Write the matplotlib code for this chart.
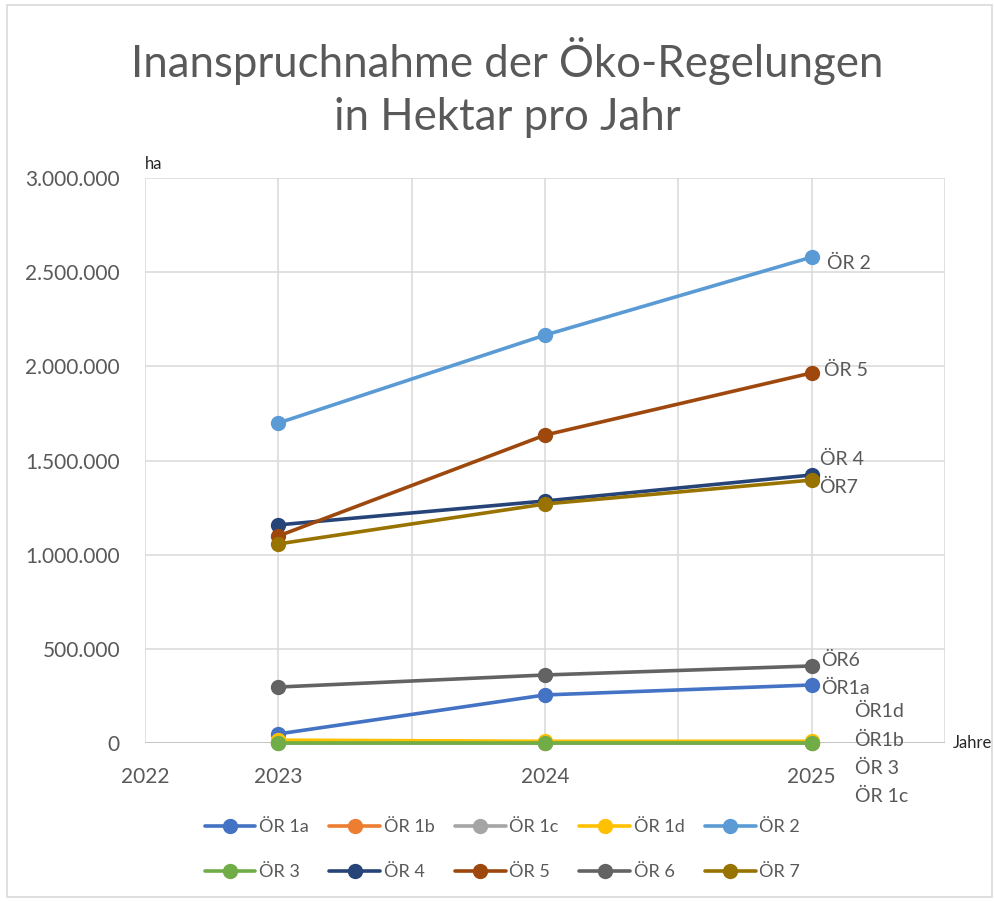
import matplotlib
matplotlib.use("Agg")
import matplotlib.pyplot as plt
from matplotlib.ticker import FuncFormatter, MultipleLocator
from matplotlib.patches import Rectangle

plt.rcParams['font.family'] = ['Lato', 'DejaVu Sans']

years = [2023, 2024, 2025]
series_names = ["ÖR 1a", "ÖR 1b", "ÖR 1c", "ÖR 1d", "ÖR 2", "ÖR 3", "ÖR 4", "ÖR 5", "ÖR 6", "ÖR 7"]
or1a = [48000, 255000, 308000]
or1b = [3000, 2000, 2000]
or1c = [1000, 1000, 1000]
or1d = [15000, 9000, 9000]
or2 = [1699000, 2166000, 2580000]
or3 = [2000, 2000, 2000]
or4 = [1158000, 1285000, 1423000]
or5 = [1099000, 1635000, 1965000]
or6 = [297000, 361000, 409000]
or7 = [1057000, 1269000, 1396000]
values = [or1a, or1b, or1c, or1d, or2, or3, or4, or5, or6, or7]
colors = ["#4472C4", "#ED7D31", "#A5A5A5", "#FFC000", "#5B9BD5",
          "#70AD47", "#264478", "#9E480E", "#636363", "#997300"]

# end-of-line data labels
end_labels = ["ÖR1a", "ÖR1b", "ÖR 1c", "ÖR1d", "ÖR 2", "ÖR 3", "ÖR 4", "ÖR 5", "ÖR6", "ÖR7"]
label_offsets = [(10, -3), (43, 2), (43, -54), (43, 30), (15, -6),
                 (43, -26), (8, 16), (12, 3), (10, 6), (8, -7)]

x_tick_pos = [2022.5, 2023, 2024, 2025]
x_tick_labels = ["2022", "2023", "2024", "2025"]

title = "Inanspruchnahme der Öko-Regelungen\nin Hektar pro Jahr"
TXT = "#595959"

fig = plt.figure(figsize=(9.95, 9.01), dpi=100)
fig.patches.append(Rectangle((0.007, 0.004), 0.99, 0.99, transform=fig.transFigure,
                             fill=False, edgecolor="#D9D9D9", lw=1.2))
ax = fig.add_axes([0.1457, 0.1754, 0.804, 0.627])

lines = []
for i in range(len(series_names)):
    ln, = ax.plot(years, values[i], color=colors[i], lw=2.6, marker='o', ms=10,
                  label=series_names[i], zorder=3 + i * 0.01,
                  solid_capstyle='round', clip_on=False)
    lines.append(ln)

for i in range(len(series_names)):
    ax.annotate(end_labels[i], xy=(years[-1], values[i][-1]), xytext=label_offsets[i],
                textcoords='offset pixels', ha='left', va='center',
                fontsize=14, color=TXT, annotation_clip=False, zorder=5)

ax.set_xlim(2022.5, 2025.5)
ax.set_ylim(0, 3000000)
ax.yaxis.set_major_locator(MultipleLocator(500000))
ax.grid(True, color="#D9D9D9", lw=1.1)
ax.set_axisbelow(True)
for s in ax.spines.values():
    s.set_visible(False)
ax.axhline(0, color="#BFBFBF", lw=1.2, zorder=1)

ax.set_xticks(x_tick_pos, labels=x_tick_labels)
ax.set_xticks([2023.5, 2024.5, 2025.5], minor=True)
ax.grid(True, which='minor', axis='x', color="#D9D9D9", lw=1.1)
ax.tick_params(axis='both', which='both', length=0, labelsize=15, labelcolor=TXT)
ax.tick_params(axis='x', pad=17)
ax.tick_params(axis='y', pad=18)
ax.yaxis.set_major_formatter(FuncFormatter(lambda v, p: f"{int(v):,}".replace(",", ".")))
for lab in ax.get_xticklabels():
    if lab.get_text() == "2022":
        lab.set_x(2022.41)

ax.text(0.0, 1.01, "ha", transform=ax.transAxes, fontsize=12, color="#262626",
        ha='left', va='bottom')
ax.text(1.01, 0.0, "Jahre", transform=ax.transAxes, fontsize=12, color="#262626",
        ha='left', va='center')

fig.text(0.51, 0.903, title, ha='center', va='center', fontsize=31.5, color=TXT,
         linespacing=1.38)

order = [0, 5, 1, 6, 2, 7, 3, 8, 4, 9]
leg = fig.legend([lines[i] for i in order], [series_names[i] for i in order],
                 loc='center', bbox_to_anchor=(0.505, 0.057),
                 ncol=5, frameon=False, fontsize=13, handlelength=2.8,
                 columnspacing=1.15, handletextpad=0.2, labelspacing=1.6,
                 labelcolor=TXT)

fig.savefig("out.png", dpi=100)
